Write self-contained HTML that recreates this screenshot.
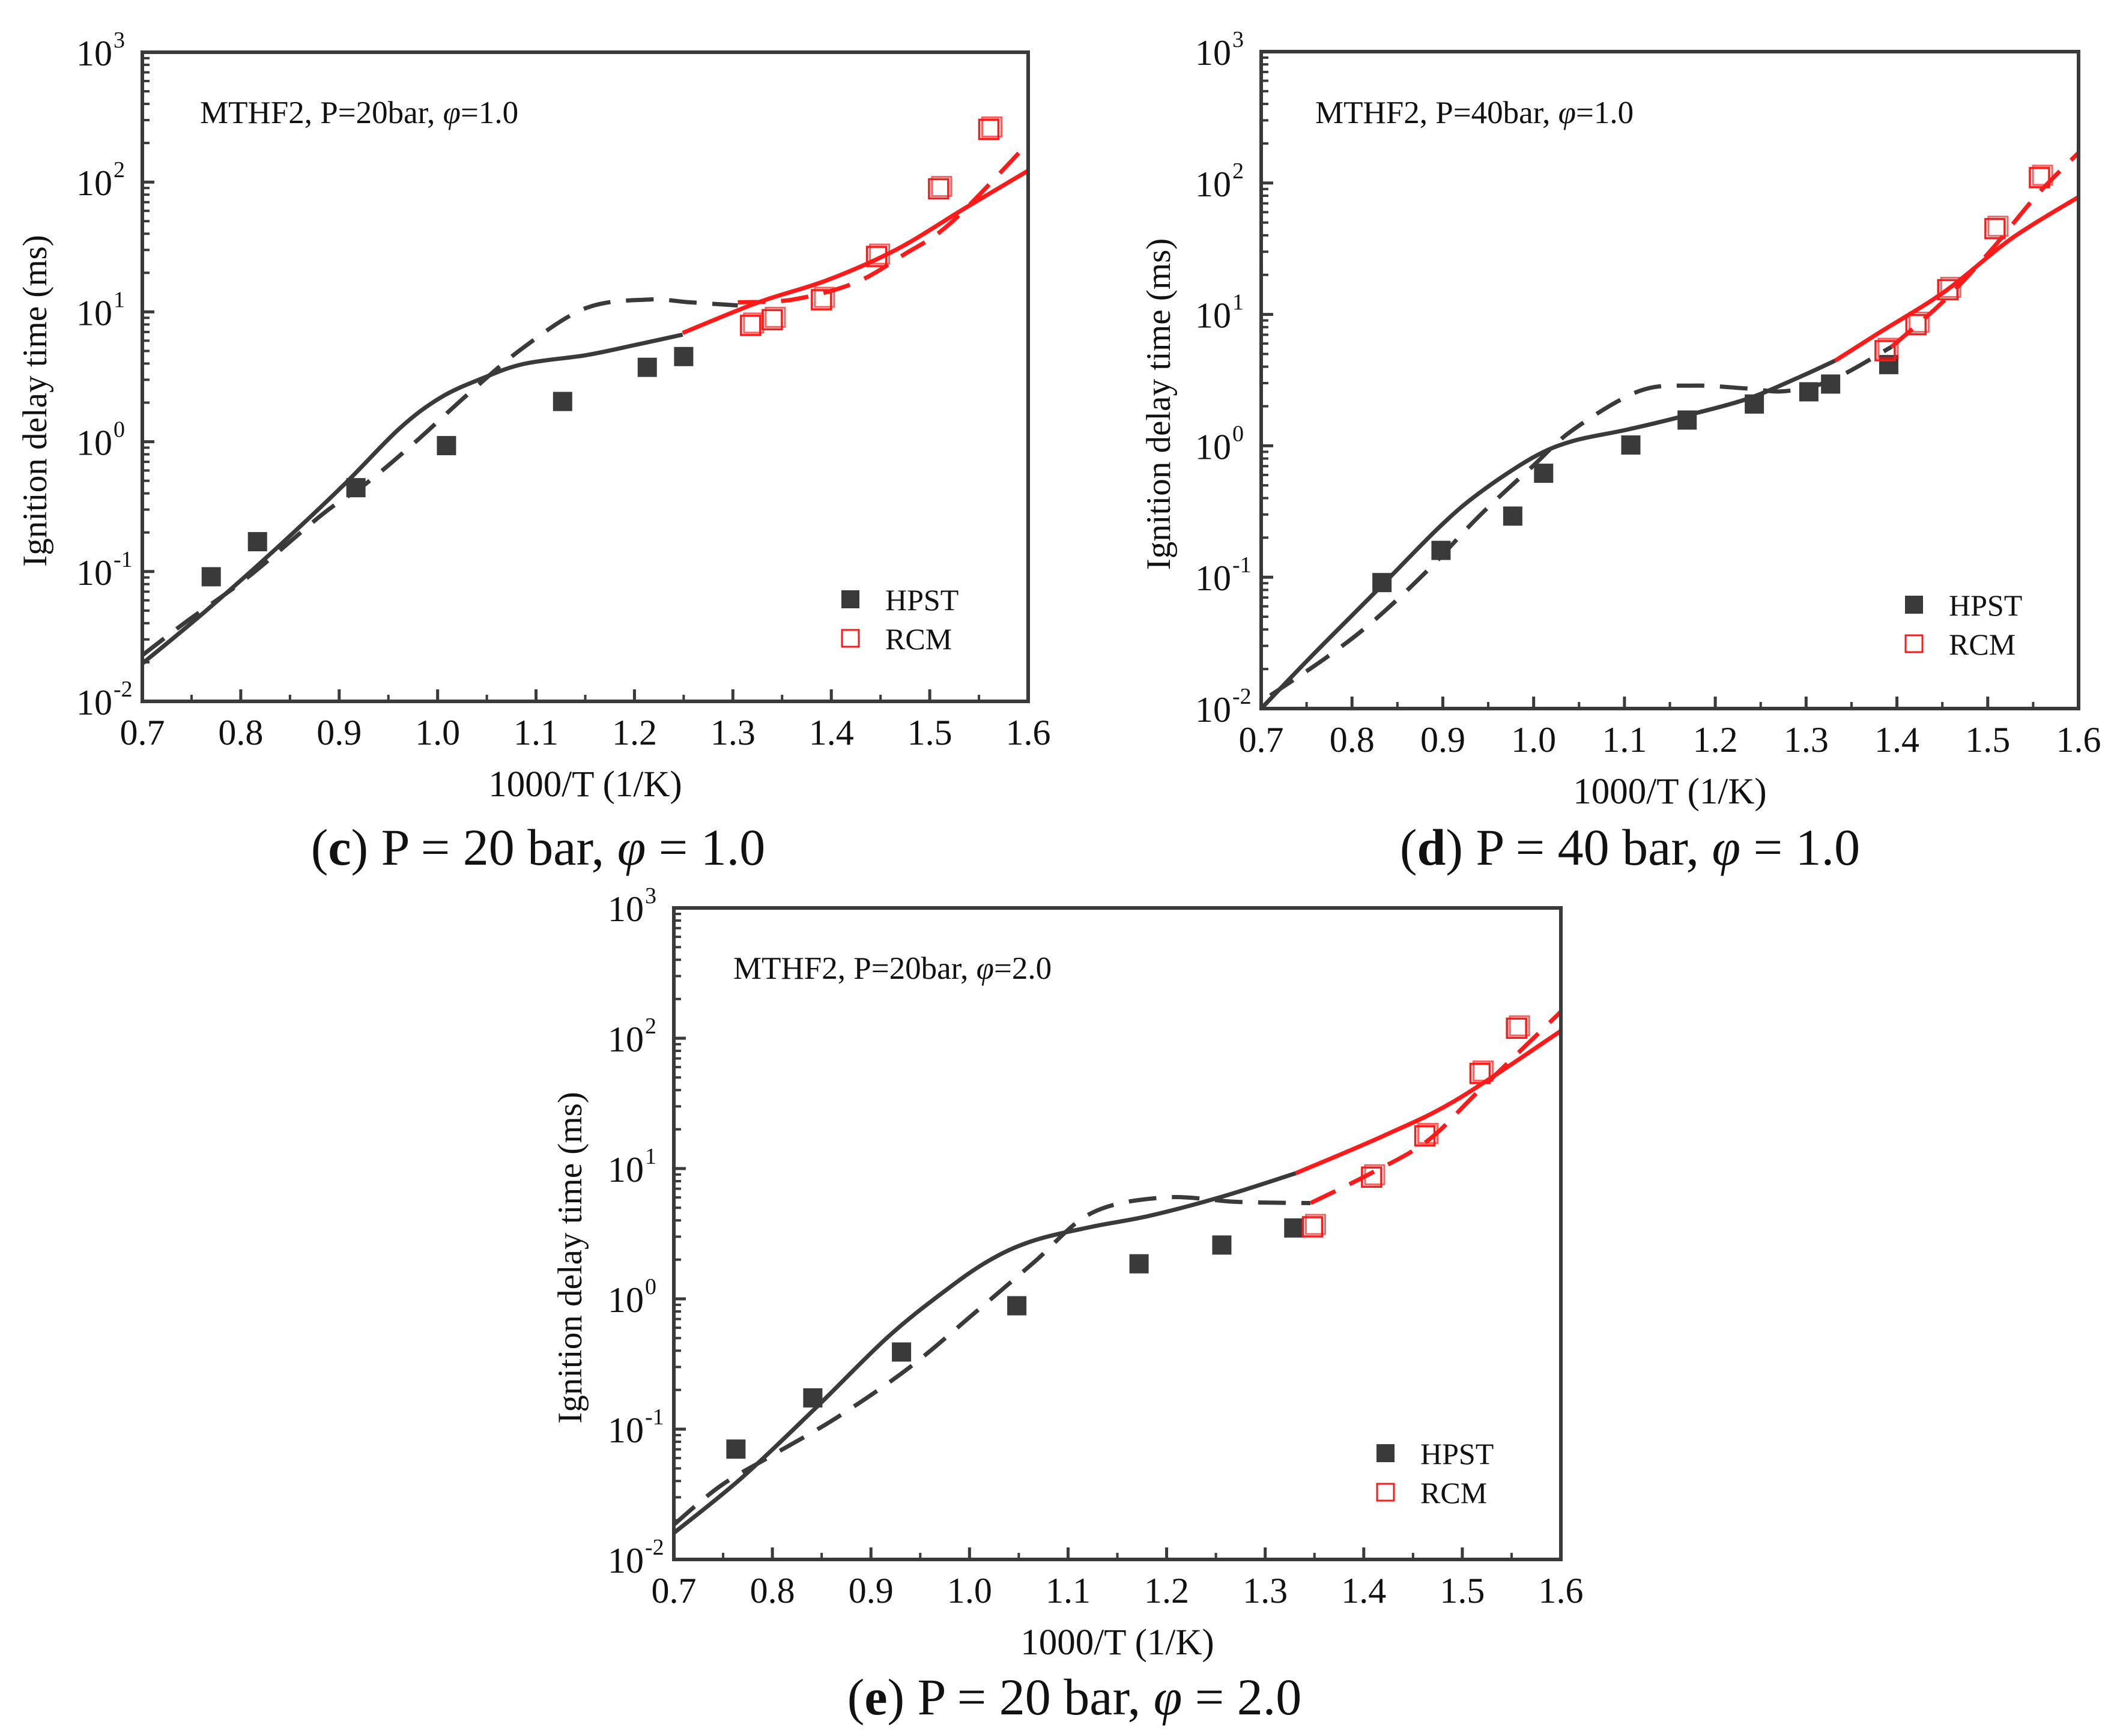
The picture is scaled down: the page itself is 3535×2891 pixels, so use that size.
<!DOCTYPE html>
<html><head><meta charset="utf-8"><style>
html,body{margin:0;padding:0;background:#fff;}
svg{display:block;font-family:"Liberation Serif",serif;}
</style></head><body>
<svg id="chart" width="3535" height="2891" viewBox="0 0 3535 2891" xmlns="http://www.w3.org/2000/svg"></svg>
<script>
// ---- data (x = 1000/T, y = log10 of ignition delay in ms) ----
const xTicks = [0.7,0.8,0.9,1.0,1.1,1.2,1.3,1.4,1.5,1.6];
const xTickLabels = ["0.7","0.8","0.9","1.0","1.1","1.2","1.3","1.4","1.5","1.6"];
const yDecades = [-2,-1,0,1,2,3];

const cHpstX = [0.770,0.817,0.917,1.009,1.127,1.213,1.250];
const cHpstLog = [-1.04,-0.77,-0.354,-0.03,0.31,0.573,0.656];
const cRcmX = [1.318,1.340,1.390,1.446,1.509,1.560];
const cRcmLog = [0.896,0.94,1.094,1.427,1.948,2.406];
const cSolidX = [0.7,0.765,0.835,0.905,0.961,1.003,1.046,1.088,1.151,1.2,1.249];
const cSolidLog = [-1.709,-1.30,-0.83,-0.33,0.10,0.34,0.49,0.60,0.667,0.744,0.825];
const cSolidRedX = [1.249,1.326,1.396,1.466,1.536,1.6];
const cSolidRedLog = [0.838,1.074,1.245,1.48,1.80,2.088];
const cDashX = [0.7,0.744,0.807,0.884,0.926,0.975,1.031,1.088,1.151,1.214,1.256,1.305];
const cDashLog = [-1.645,-1.39,-1.045,-0.553,-0.33,-0.018,0.367,0.73,1.03,1.095,1.074,1.05];
const cDashRedX = [1.305,1.361,1.424,1.473,1.522,1.6];
const cDashRedLog = [1.074,1.095,1.224,1.438,1.69,2.30];

const dHpstX = [0.833,0.898,0.977,1.011,1.107,1.169,1.243,1.303,1.327,1.391];
const dHpstLog = [-1.041,-0.796,-0.535,-0.209,0.006,0.196,0.318,0.411,0.47,0.618];
const dRcmX = [1.387,1.421,1.456,1.508,1.557];
const dRcmLog = [0.724,0.922,1.188,1.653,2.041];
const dSolidX = [0.7,0.757,0.83,0.896,0.94,0.999,1.043,1.101,1.16,1.233,1.292,1.332];
const dSolidLog = [-2.0,-1.59,-1.083,-0.62,-0.36,-0.09,0.036,0.12,0.217,0.352,0.521,0.648];
const dSolidRedX = [1.332,1.38,1.453,1.526,1.6];
const dSolidRedLog = [0.648,0.859,1.176,1.577,1.894];
const dDashX = [0.71,0.772,0.823,0.882,0.94,0.999,1.043,1.116,1.175,1.233,1.277,1.328,1.394];
const dDashLog = [-1.9,-1.61,-1.337,-0.957,-0.535,-0.155,0.12,0.416,0.458,0.437,0.416,0.5,0.753];
const dDashRedX = [1.394,1.453,1.504,1.555,1.6];
const dDashRedLog = [0.753,1.112,1.492,1.915,2.231];

const eHpstX = [0.763,0.841,0.931,1.048,1.172,1.256,1.329];
const eHpstLog = [-1.153,-0.76,-0.408,-0.053,0.269,0.413,0.544];
const eRcmX = [1.348,1.408,1.462,1.518,1.555];
const eRcmLog = [0.553,0.934,1.251,1.73,2.077];
const eSolidX = [0.7,0.769,0.843,0.917,0.976,1.021,1.065,1.124,1.183,1.257,1.331];
const eSolidLog = [-1.797,-1.373,-0.844,-0.294,0.066,0.299,0.447,0.553,0.638,0.786,0.964];
const eSolidRedX = [1.331,1.42,1.494,1.6];
const eSolidRedLog = [0.964,1.251,1.527,2.056];
const eDashX = [0.7,0.747,0.799,0.866,0.939,1.006,1.065,1.124,1.198,1.272,1.346];
const eDashLog = [-1.733,-1.437,-1.204,-0.908,-0.527,-0.103,0.278,0.659,0.778,0.744,0.735];
const eDashRedX = [1.346,1.405,1.464,1.516,1.6];
const eDashRedLog = [0.735,0.955,1.209,1.59,2.204];

const NS="http://www.w3.org/2000/svg";
const svg=document.getElementById('chart');
function mk(tag,attrs,parent){const e=document.createElementNS(NS,tag);for(const k in attrs)e.setAttribute(k,attrs[k]);(parent||svg).appendChild(e);return e;}
const DARK="#3a3a3a", RED="#ff1a1a";

function smoothPath(xs,ys,sx,sy){
  const p=xs.map((x,i)=>[sx(x),sy(ys[i])]);
  let d=`M${p[0][0]},${p[0][1]}`;
  for(let i=0;i<p.length-1;i++){
    const p0=p[i-1]||p[i],p1=p[i],p2=p[i+1],p3=p[i+2]||p2;
    const c1=[p1[0]+(p2[0]-p0[0])/6,p1[1]+(p2[1]-p0[1])/6];
    const c2=[p2[0]-(p3[0]-p1[0])/6,p2[1]-(p3[1]-p1[1])/6];
    d+=` C${c1[0]},${c1[1]} ${c2[0]},${c2[1]} ${p2[0]},${p2[1]}`;
  }
  return d;
}

function panel(id,L,T,R,B,cfg){
  const g=mk('g',{});
  
  
  const sx=x=>L+(x-0.7)/0.9*(R-L);
  const sy=v=>B-(v+2)/5*(B-T);
  xTicks.forEach((t,i)=>{
    const x=sx(t);
    const tk=mk('line',{x1:x,y1:B,x2:x,y2:B-20,stroke:DARK,'stroke-width':5},g);
    
    
    if(i<xTicks.length-1){const xm=sx(t+0.05);mk('line',{x1:xm,y1:B,x2:xm,y2:B-11,stroke:DARK,'stroke-width':4},g);}
    const lb=mk('text',{x:x,y:B+72,'font-size':60,'text-anchor':'middle',fill:'#111'},g);
    lb.textContent=xTickLabels[i];
    
    
  });
  yDecades.forEach((dcd,i)=>{
    const y=sy(dcd);
    mk('line',{x1:L,y1:y,x2:L+20,y2:y,stroke:DARK,'stroke-width':5},g);
    if(i<yDecades.length-1){for(let m=2;m<=9;m++){const ym=sy(dcd+Math.log10(m));mk('line',{x1:L,y1:ym,x2:L+12,y2:ym,stroke:DARK,'stroke-width':4},g);}}
    const lb=mk('text',{x:L-50,y:y+22,'font-size':60,'text-anchor':'end',fill:'#111'},g);
    lb.textContent='10';
    
    
    const sp=mk('text',{x:L-48,y:y-8,'font-size':38,'text-anchor':'start',fill:'#111'},g);
    sp.textContent=String(dcd);
  });
  const curves=[[cfg.solidX,cfg.solidLog,DARK,null],[cfg.dashX,cfg.dashLog,DARK,'46 26'],[cfg.solidRedX,cfg.solidRedLog,RED,null],[cfg.dashRedX,cfg.dashRedLog,RED,'46 26']];
  const names=['model-solid-dark','model-dashed-dark','model-solid-red','model-dashed-red'];
  curves.forEach((c,k)=>{
    const a={d:smoothPath(c[0],c[1],sx,sy),fill:'none',stroke:c[2],'stroke-width':7};
    if(c[3])a['stroke-dasharray']=c[3];
    const p=mk('path',a,g);
    
    
  });
  cfg.hpstX.forEach((x,i)=>{
    const r=mk('rect',{x:sx(x)-16,y:sy(cfg.hpstLog[i])-16,width:32,height:32,fill:DARK},g);
    
    
  });
  cfg.rcmX.forEach((x,i)=>{
    const r=mk('rect',{x:sx(x)-16,y:sy(cfg.rcmLog[i])-16,width:32,height:32,fill:'none',stroke:RED,'stroke-width':3.5},g);
    
    
    mk('rect',{x:sx(x)-11,y:sy(cfg.rcmLog[i])-20,width:32,height:32,fill:'none',stroke:RED,'stroke-width':3,opacity:0.7},g);
  });
  const fr=mk('rect',{x:L,y:T,width:R-L,height:B-T,fill:'none',stroke:DARK,'stroke-width':6},g);
  
  
  const xt=mk('text',{x:(L+R)/2,y:B+158,'font-size':61,'text-anchor':'middle',fill:'#111'},g);
  xt.textContent='1000/T (1/K)';
  
  
  const ycx=L-cfg.ytOff, ycy=(T+B)/2+40;
  const yt=mk('text',{x:ycx,y:ycy,'font-size':57,'text-anchor':'middle',fill:'#111',transform:`rotate(-90 ${ycx} ${ycy})`},g);
  yt.textContent='Ignition delay time (ms)';
  
  
  const an=mk('text',{x:cfg.annX,y:cfg.annY,'font-size':53,fill:'#111'},g);
  an.innerHTML=cfg.ann;
  
  
  const lg=mk('g',{},g);
  
  
  mk('rect',{x:cfg.legX-15,y:cfg.legY-15,width:30,height:30,fill:DARK},lg);
  const t1=mk('text',{x:cfg.legX+58,y:cfg.legY+18,'font-size':50,fill:'#111'},lg);t1.textContent='HPST';
  
  
  mk('rect',{x:cfg.legX-14,y:cfg.legY+65-14,width:28,height:28,fill:'none',stroke:RED,'stroke-width':3},lg);
  const t2=mk('text',{x:cfg.legX+58,y:cfg.legY+83,'font-size':50,fill:'#111'},lg);t2.textContent='RCM';
  
  
  const cp=mk('text',{x:cfg.capX,y:cfg.capY,'font-size':86,'text-anchor':'middle',fill:'#111'},g);
  cp.innerHTML=`(<tspan font-weight="bold">${id}</tspan>) P = ${cfg.capP} bar, <tspan font-style="italic">φ</tspan> = ${cfg.capPhi}`;
  
  
}

panel('c',237,87,1712,1168,{hpstX:cHpstX,hpstLog:cHpstLog,rcmX:cRcmX,rcmLog:cRcmLog,solidX:cSolidX,solidLog:cSolidLog,solidRedX:cSolidRedX,solidRedLog:cSolidRedLog,dashX:cDashX,dashLog:cDashLog,dashRedX:cDashRedX,dashRedLog:cDashRedLog,
  ytOff:160,annX:333,annY:205,ann:'MTHF2, P=20bar, <tspan font-style="italic">φ</tspan>=1.0',legX:1416,legY:998,capX:896,capY:1440,capP:'20',capPhi:'1.0'});
panel('d',2100,86,3461,1180,{hpstX:dHpstX,hpstLog:dHpstLog,rcmX:dRcmX,rcmLog:dRcmLog,solidX:dSolidX,solidLog:dSolidLog,solidRedX:dSolidRedX,solidRedLog:dSolidRedLog,dashX:dDashX,dashLog:dDashLog,dashRedX:dDashRedX,dashRedLog:dDashRedLog,
  ytOff:152,annX:2190,annY:205,ann:'MTHF2, P=40bar, <tspan font-style="italic">φ</tspan>=1.0',legX:3187,legY:1007,capX:2714,capY:1440,capP:'40',capPhi:'1.0'});
panel('e',1122,1512,2599,2597,{hpstX:eHpstX,hpstLog:eHpstLog,rcmX:eRcmX,rcmLog:eRcmLog,solidX:eSolidX,solidLog:eSolidLog,solidRedX:eSolidRedX,solidRedLog:eSolidRedLog,dashX:eDashX,dashLog:eDashLog,dashRedX:eDashRedX,dashRedLog:eDashRedLog,
  ytOff:154,annX:1221,annY:1630,ann:'MTHF2, P=20bar, <tspan font-style="italic">φ</tspan>=2.0',legX:2307,legY:2420,capX:1789,capY:2855,capP:'20',capPhi:'2.0'});
</script>
</body></html>
